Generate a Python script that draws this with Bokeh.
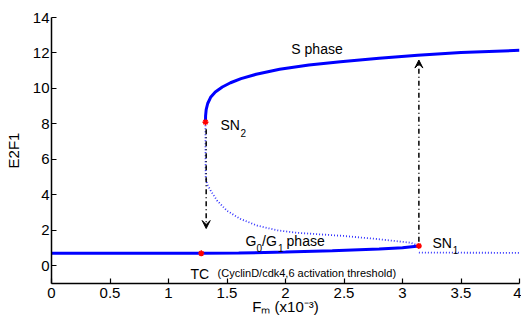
from bokeh.plotting import figure
from bokeh.models import Label, Arrow, VeeHead, FixedTicker, Range1d
from bokeh.embed import file_html
from bokeh.resources import INLINE

# ---------------- data ----------------
upper_x = [1.316, 1.317, 1.322, 1.335, 1.36, 1.40, 1.46, 1.53, 1.62, 1.75, 1.95, 2.2, 2.47, 2.8, 3.13, 3.5, 4.0]
upper_y = [8.10, 8.45, 8.80, 9.15, 9.50, 9.80, 10.08, 10.32, 10.55, 10.80, 11.08, 11.32, 11.50, 11.70, 11.87, 12.02, 12.15]

mid_x = [1.316, 1.316, 1.318, 1.33, 1.36, 1.416, 1.50, 1.615, 1.76, 1.93, 2.10, 2.30, 2.50, 2.78, 3.07, 3.14]
mid_y = [8.10, 6.50, 5.00, 4.60, 4.24, 3.67, 3.10, 2.64, 2.26, 2.00, 1.86, 1.77, 1.68, 1.51, 1.30, 1.12]

lower_x = [0.0, 0.5, 1.0, 1.28, 1.6, 2.0, 2.4, 2.8, 3.0, 3.14]
lower_y = [0.70, 0.70, 0.70, 0.70, 0.72, 0.77, 0.84, 0.94, 1.02, 1.12]

low_unst_x = [3.14, 4.0]
low_unst_y = [0.74, 0.73]

pts_x = [1.316, 1.28, 3.14]   # SN2, TC, SN1
pts_y = [8.10, 0.70, 1.12]

arrow_x = [1.322, 3.14]
arrow_y0 = [7.7, 1.35]
arrow_y1 = [2.1, 11.6]

x_ticks = [0, 0.5, 1, 1.5, 2, 2.5, 3, 3.5, 4]
x_tick_labels = ["0", "0.5", "1", "1.5", "2", "2.5", "3", "3.5", "4"]
y_ticks = [0, 2, 4, 6, 8, 10, 12, 14]

x_label = "F\u2098 (x10\u207B\u00B3)"
y_label = "E2F1"

# annotation texts: (text, x, y, size)
ann_text = ["S phase", "SN", "2", "G", "0", "/G", "1", "phase", "SN", "1", "TC",
            "(CyclinD/cdk4,6 activation threshold)"]
ann_x = [2.05, 1.444, 1.615, 1.658, 1.752, 1.80, 1.936, 2.009, 3.256, 3.43, 1.188, 1.419]
ann_y = [12.20, 7.92, 7.46, 1.41, 1.02, 1.41, 1.02, 1.41, 1.27, 0.87, -0.46, -0.38]
ann_size = [14, 14, 10, 14, 10, 14, 10, 14, 14, 10, 14, 11]

FONT = "Liberation Sans"
BLUE = "#0000FF"

p = figure(width=521, height=322, output_backend="svg", toolbar_location=None,
           x_range=Range1d(0, 4), y_range=Range1d(-1, 14),
           min_border_left=51, min_border_right=2, min_border_top=17, min_border_bottom=39)
p.outline_line_color = None
p.grid.visible = False
p.background_fill_color = "white"
p.border_fill_color = "white"

for ax in (p.xaxis[0], p.yaxis[0]):
    ax.axis_line_width = 1.5
    ax.axis_line_color = "black"
    ax.major_tick_in = 5
    ax.major_tick_out = 0
    ax.major_tick_line_width = 1.2
    ax.minor_tick_line_color = None
    ax.major_label_text_font = FONT
    ax.major_label_text_font_size = "15px"
    ax.major_label_text_color = "black"
    ax.axis_label_text_font = FONT
    ax.axis_label_text_font_size = "15px"
    ax.axis_label_text_font_style = "normal"
    ax.axis_label_text_color = "black"

p.xaxis[0].ticker = FixedTicker(ticks=x_ticks)
p.xaxis[0].major_label_overrides = {t: s for t, s in zip(x_ticks, x_tick_labels)}
p.xaxis[0].major_label_standoff = 4
p.xaxis[0].axis_label = x_label
p.xaxis[0].axis_label_standoff = -3
p.yaxis[0].ticker = FixedTicker(ticks=y_ticks)
p.yaxis[0].major_label_standoff = 2
p.yaxis[0].axis_label = y_label
p.yaxis[0].axis_label_standoff = 8

# unstable (dotted) branches
p.line(mid_x, mid_y, line_color=BLUE, line_width=1.8, line_dash="1 2", line_alpha=0.8)
p.line(low_unst_x, low_unst_y, line_color=BLUE, line_width=1.8, line_dash="1 2", line_alpha=0.8)

# stable branches
p.line(upper_x, upper_y, line_color=BLUE, line_width=3)
p.line(lower_x, lower_y, line_color=BLUE, line_width=3)

# jump arrows
for xa, ya0, ya1 in zip(arrow_x, arrow_y0, arrow_y1):
    p.add_layout(Arrow(x_start=xa, y_start=ya0, x_end=xa, y_end=ya1,
                       line_color="black", line_width=1.5, line_dash="5 3 1 3",
                       end=VeeHead(size=8, fill_color="black", line_color="black", line_width=1)))

# bifurcation points
p.scatter(pts_x, pts_y, marker="asterisk", size=6, line_color="red", line_width=1.5)
p.scatter(pts_x, pts_y, marker="circle", size=3, fill_color="red", line_color="red")

for t, x, y, s in zip(ann_text, ann_x, ann_y, ann_size):
    p.add_layout(Label(x=x, y=y, text=t, text_font=FONT, text_font_size=f"{s}px",
                       text_baseline="alphabetic", text_align="left", text_color="black"))

open("out.html", "w").write(file_html(p, INLINE))
